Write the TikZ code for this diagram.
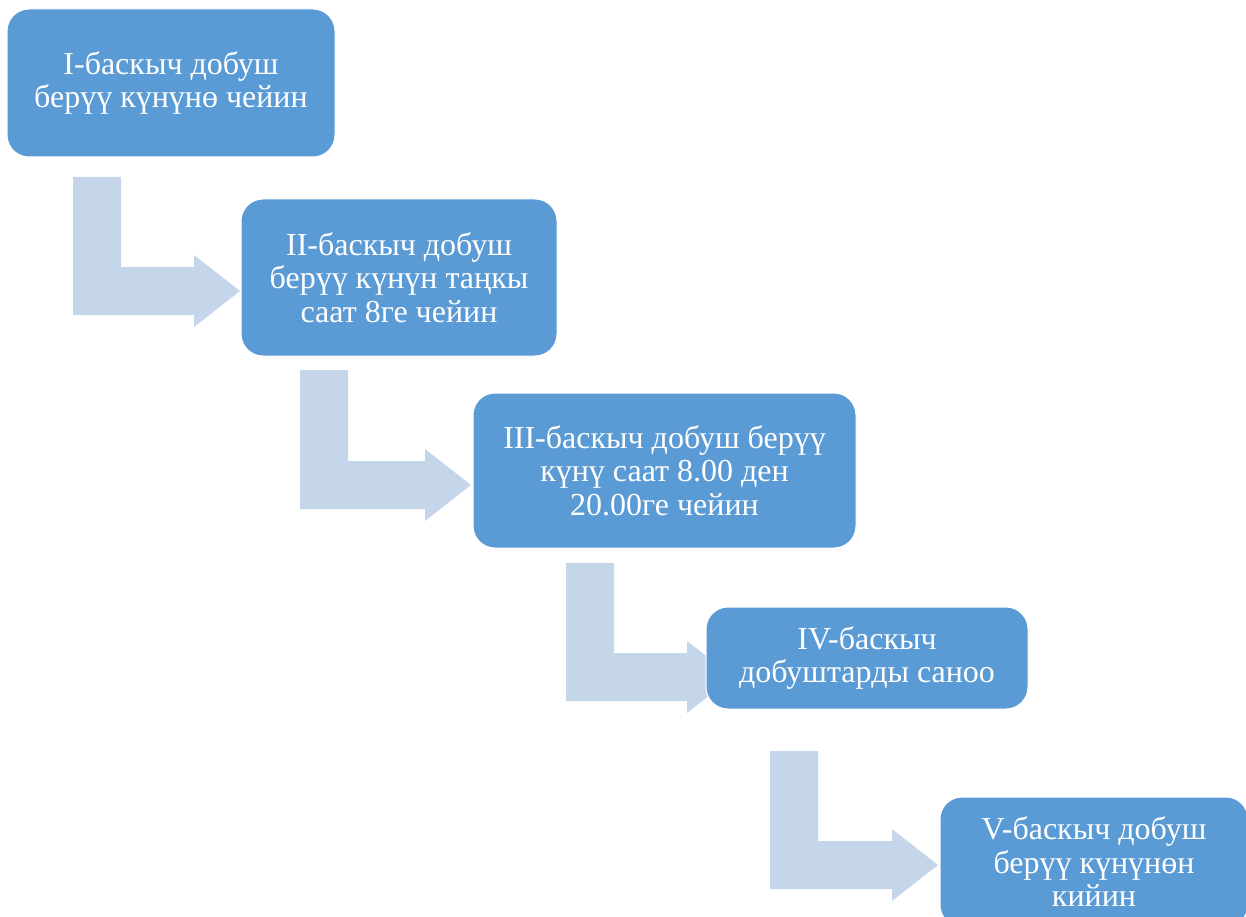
\documentclass[tikz,border=0pt]{standalone}
\usepackage{fontspec}
\setmainfont{Liberation Serif}
\definecolor{stageblue}{HTML}{5B9BD5}
\definecolor{bendblue}{HTML}{C5D5EA}
\tikzset{
  stage/.style={rectangle,rounded corners=22pt,fill=stageblue,draw=white,line width=1pt,
    text=white,align=center,inner sep=0pt,font=\fontsize{32}{33.5}\selectfont},
  bendfill/.style={fill=bendblue}
}
% shaft left, shaft top, middle line, tip
\newcommand{\bendarrow}[4]{%
  \fill[bendfill] (#1,#2) -- (#1+48,#2) -- (#1+48,#3-24) -- (#4-46,#3-24) -- (#4-46,#3-36)
    -- (#4,#3) -- (#4-46,#3+36) -- (#4-46,#3+24) -- (#1,#3+24) -- cycle;}
\begin{document}
\begin{tikzpicture}[x=1pt,y=-1pt]
\useasboundingbox (0,0) rectangle (1246,917);
\bendarrow{73}{177}{291}{240}
\bendarrow{300}{370}{485}{471}
\bendarrow{566}{563}{677}{733}
\bendarrow{770}{751}{865}{938}
\node[stage,minimum width=328,minimum height=148] (s1) at (171,83) {I-баскыч добуш\\берүү күнүнө чейин};
\node[stage,minimum width=316,minimum height=157] (s2) at (399,277.5) {II-баскыч добуш\\берүү күнүн таңкы\\саат 8ге чейин};
\node[stage,minimum width=383,minimum height=155] (s3) at (664.5,470.5) {III-баскыч добуш берүү\\күнү саат 8.00 ден\\20.00ге чейин};
\node[stage,minimum width=322,minimum height=102] (s4) at (867,658) {IV-баскыч\\добуштарды саноо};
\node[stage,minimum width=308,minimum height=130] (s5) at (1094,862) {V-баскыч добуш\\берүү күнүнөн\\кийин};
\end{tikzpicture}
\end{document}
